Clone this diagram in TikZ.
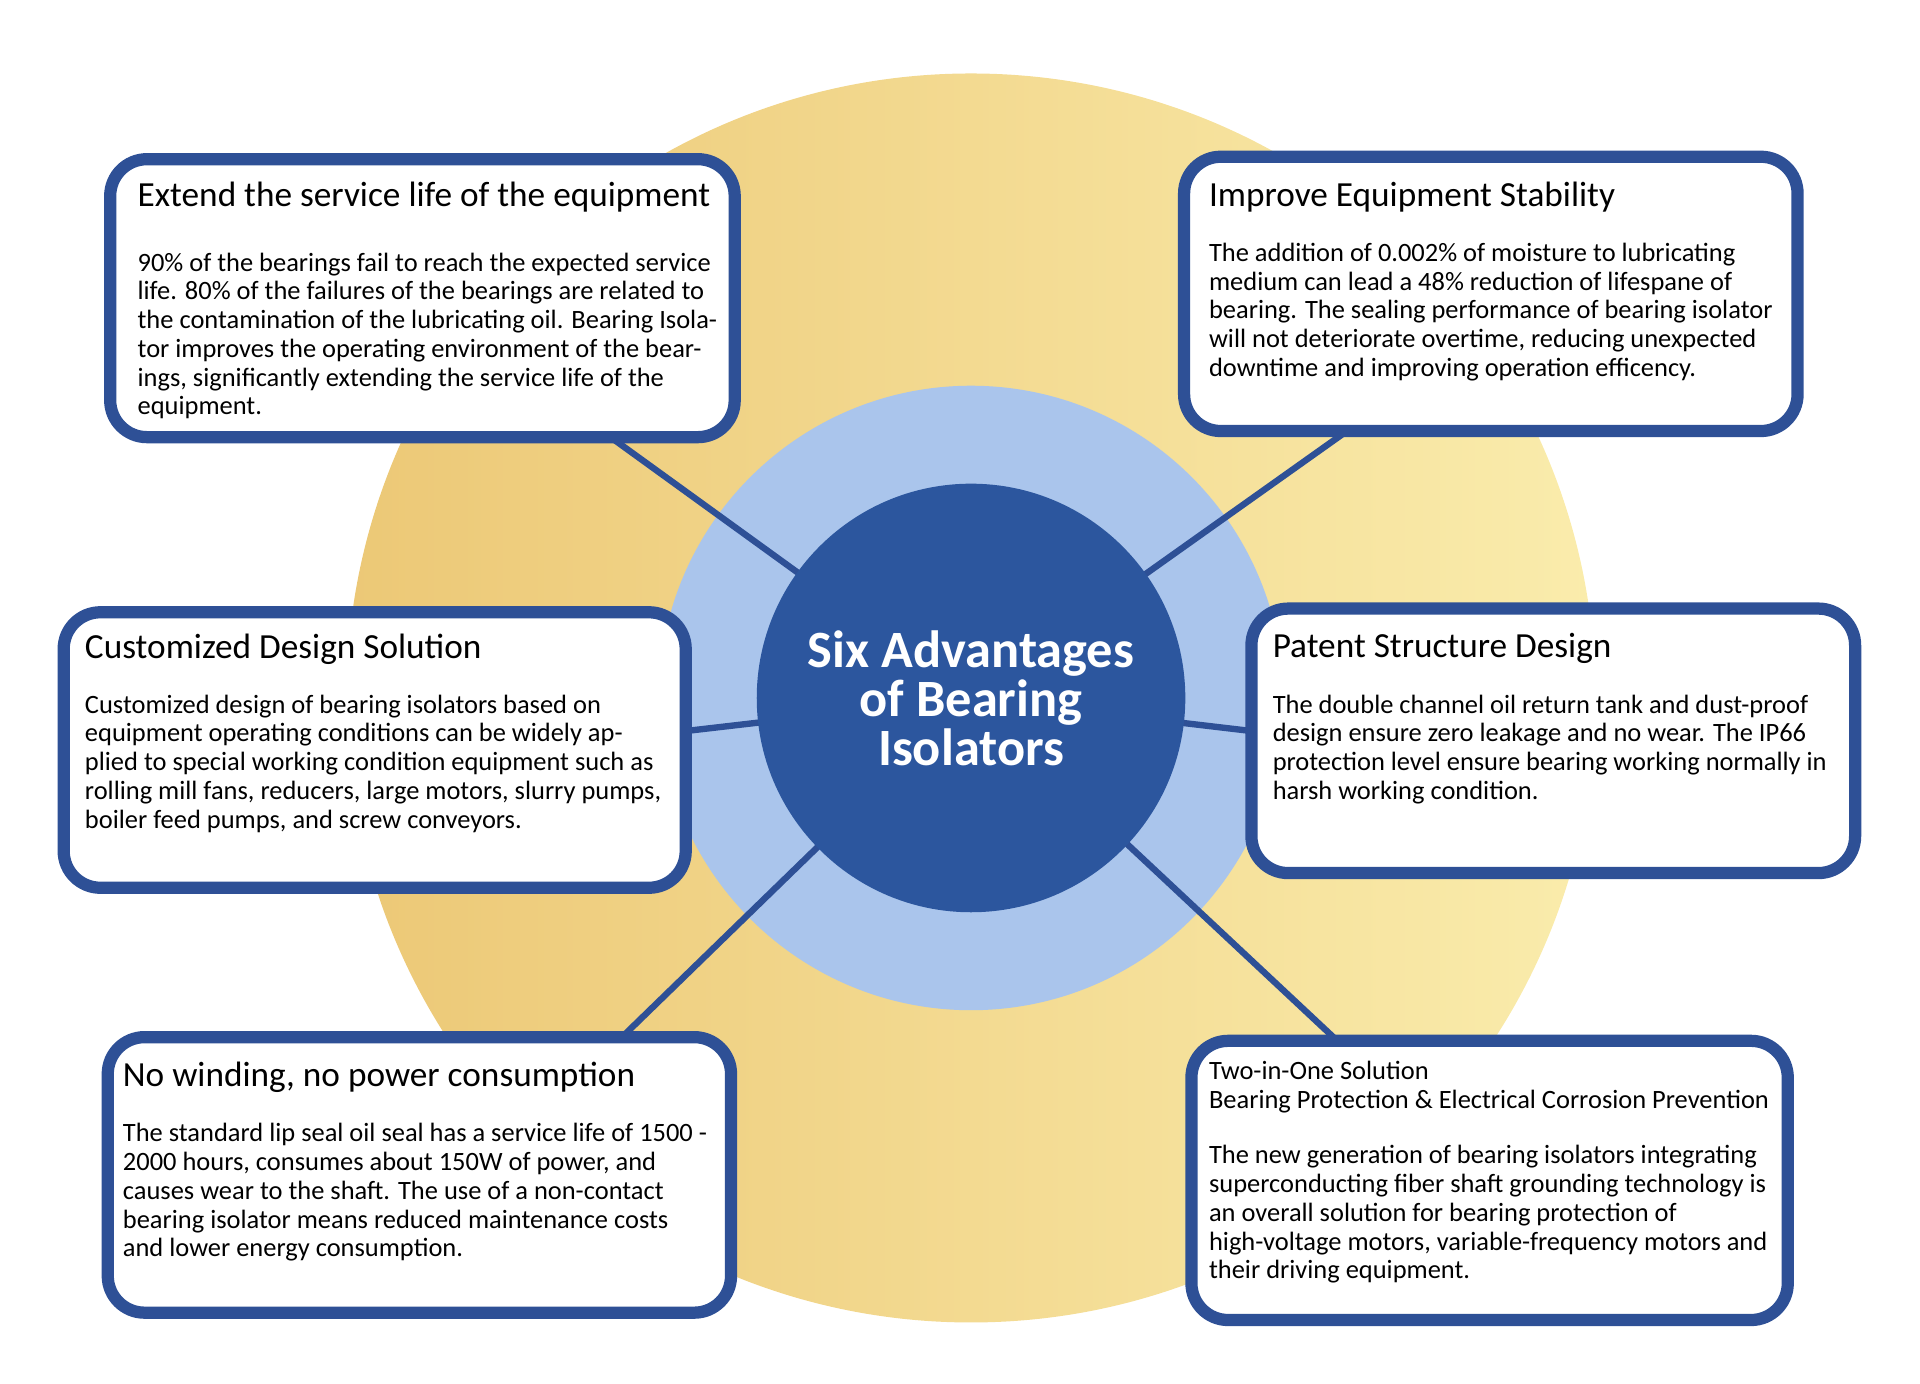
\documentclass[tikz,border=0pt]{standalone}
\usepackage{fontspec}
\setmainfont{Carlito}
\usetikzlibrary{positioning}
\definecolor{gold}{RGB}{236,200,118}
\definecolor{pale}{RGB}{250,236,172}
\definecolor{ring}{RGB}{170,197,236}
\definecolor{core}{RGB}{44,86,158}
\definecolor{frame}{RGB}{46,80,150}
\tikzset{
  card/.style={draw=frame,line width=5pt,fill=white,rounded corners=15pt,inner sep=0pt},
  head/.style={anchor=north west,inner sep=0pt,font=\fontsize{14.4}{16}\selectfont,align=left},
  body/.style={anchor=north west,inner sep=0pt,font=\fontsize{10.8}{11.75}\selectfont,align=left},
  link/.style={draw=frame,line width=2.6pt}
}
\begin{document}
\begin{tikzpicture}[x=0.5pt,y=-0.5pt]
\useasboundingbox (0,0) rectangle (1568,1130);
% background discs
\shade[left color=gold,right color=pale] (793,570) circle (255pt);
\fill[ring] (793,570) circle (127.5pt);
\coordinate (c) at (793,570);

% connectors
\draw[link] (c) -- (500,358);
\draw[link] (c) -- (1100,352);
\draw[link] (c) -- (560,597);
\draw[link] (c) -- (1022,597);
\draw[link] (c) -- (510,845);
\draw[link] (c) -- (1090,848);

\node[circle,fill=core,minimum size=175pt,inner sep=0pt,text=white,align=center,
  font=\bfseries\fontsize{21.4}{20}\selectfont] (hub) at (c) {Six Advantages\\of Bearing\\Isolators};

% cards
\node[card,minimum width=255pt,minimum height=113.5pt] (b1) at (345,243.5) {};
\node[card,minimum width=250.5pt,minimum height=112pt] (b2) at (1217.5,240) {};
\node[card,minimum width=254pt,minimum height=112.5pt] (b3) at (306,612.5) {};
\node[card,minimum width=246.5pt,minimum height=108pt] (b4) at (1268.5,605) {};
\node[card,minimum width=254.5pt,minimum height=112.5pt] (b5) at (342.5,959.5) {};
\node[card,minimum width=243.5pt,minimum height=114pt] (b6) at (1216.5,964) {};

\node[head] (h1) at (112,148) {Extend the service life of the equipment};
\node[body] (t1) at (112,206) {90\% of the bearings fail to reach the expected service\\
life. 80\% of the failures of the bearings are related to\\
the contamination of the lubricating oil. Bearing Isola-\\
tor improves the operating environment of the bear-\\
ings, significantly extending the service life of the\\
equipment.};

\node[head] (h2) at (987,148) {Improve Equipment Stability};
\node[body] (t2) at (987,198) {The addition of 0.002\% of moisture to lubricating\\
medium can lead a 48\% reduction of lifespane of\\
bearing. The sealing performance of bearing isolator\\
will not deteriorate overtime, reducing unexpected\\
downtime and improving operation efficency.};

\node[head] (h3) at (69,517) {Customized Design Solution};
\node[body] (t3) at (69,567) {Customized design of bearing isolators based on\\
equipment operating conditions can be widely ap-\\
plied to special working condition equipment such as\\
rolling mill fans, reducers, large motors, slurry pumps,\\
boiler feed pumps, and screw conveyors.};

\node[head] (h4) at (1039,517) {Patent Structure Design};
\node[body] (t4) at (1039,567) {The double channel oil return tank and dust-proof\\
design ensure zero leakage and no wear. The IP66\\
protection level ensure bearing working normally in\\
harsh working condition.};

\node[head] (h5) at (100,867) {No winding, no power consumption};
\node[body] (t5) at (100,917) {The standard lip seal oil seal has a service life of 1500 -\\
2000 hours, consumes about 150W of power, and\\
causes wear to the shaft. The use of a non-contact\\
bearing isolator means reduced maintenance costs\\
and lower energy consumption.};

\node[body] (h6) at (987,866) {Two-in-One Solution\\Bearing Protection \& Electrical Corrosion Prevention};
\node[body] (t6) at (987,935) {The new generation of bearing isolators integrating\\
superconducting fiber shaft grounding technology is\\
an overall solution for bearing protection of\\
high-voltage motors, variable-frequency motors and\\
their driving equipment.};
\end{tikzpicture}
\end{document}
